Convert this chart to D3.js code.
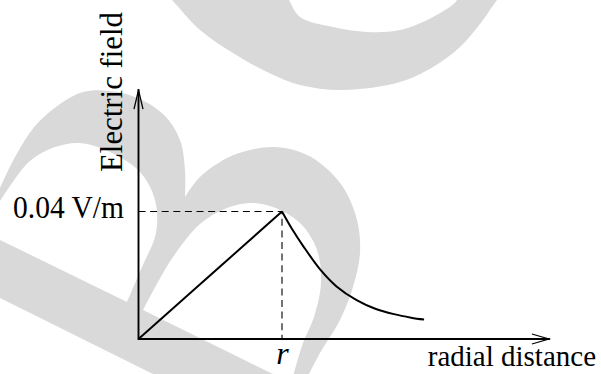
<!DOCTYPE html>
<html>
<head>
<meta charset="utf-8">
<script src="https://cdn.jsdelivr.net/npm/d3@7"></script>
<style>
  html, body { margin: 0; padding: 0; background: #ffffff; }
  svg { display: block; }
</style>
</head>
<body>
<script>
// ---------------- data ----------------
// radial distance in units of r, electric field in V/m
const riseR  = [0, 1];
const riseE  = [0, 0.04];
const decayR = [1, 1.07, 1.15, 1.27, 1.38, 1.52, 1.65, 1.78, 1.9, 1.99];
const decayE = [0.04, 0.0345, 0.0290, 0.0216, 0.0165, 0.0122, 0.0095, 0.0078, 0.0067, 0.0061];
const yTicks = [0.04];
const yTickLabels = ["0.04 V/m"];
const xTicks = [1];
const xTickLabels = ["r"];
const xTitle = "radial distance";
const yTitle = "Electric field";

// decorative background watermark outline (pixel space, not data)
const wmTopOuter = [[166,-6],[172,0],[200,30],[233,53],[267,72],[300,85],[343,90],[400,82],[433,67],[460,47],[480,24],[497,0],[502,-6]];
const wmTopInner = [[456,-6],[457,0],[433,17],[400,30],[367,32],[333,27],[300,17],[289,0],[286,-6]];
const wmLeftOuter = [[-8,205],[0,188],[15,157],[35,126],[60,104],[83,92],[110,91],[140,99],[165,116],[180,140],[185,170],[185,197]];
const wmSecondOuter = [[185,197],[200,177],[227,158],[250,150],[275,147],[300,152],[320,163],[343,187],[357,220],[360,253],[353,287],[340,320],[320,353],[306,380]];
const wmOuterClose = [[165,380],[-8,294]];
const wmLeftHole = [[-8,214],[10,186],[30,161],[55,147],[80,143],[110,152],[140,172],[155,200],[156,233],[142,267],[127,302]];
const wmLeftHoleClose = [[-8,236]];
const wmSecondHole = [[143,310],[158,282],[173,257],[200,224],[227,208],[250,203],[273,207],[300,223],[317,250],[321,283],[314,317],[303,343],[292,380]];
const wmSecondHoleClose = [[285,380]];

// ---------------- drawing ----------------
const W = 601, H = 374;
const svg = d3.select("body").append("svg").attr("width", W).attr("height", H);

const FONT = "'Liberation Serif', 'Times New Roman', serif";
const WM = "#d9d9d9";

// watermark
const smooth = d3.line().curve(d3.curveCatmullRom.alpha(0.5));
const straight = d3.line();
function joinPath(parts) {
  return parts.map((p, i) => (i === 0 ? p : p.replace(/^M/, "L"))).join("") + "Z";
}
const wm = svg.append("g");
wm.append("path").attr("fill", WM)
  .attr("d", joinPath([smooth(wmTopOuter), smooth(wmTopInner)]));
wm.append("path").attr("fill", WM)
  .attr("d", joinPath([smooth(wmLeftOuter), smooth(wmSecondOuter), straight(wmOuterClose)]));
wm.append("path").attr("fill", "#ffffff")
  .attr("d", joinPath([smooth(wmLeftHole), straight(wmLeftHoleClose)]));
wm.append("path").attr("fill", "#ffffff")
  .attr("d", joinPath([smooth(wmSecondHole), straight(wmSecondHoleClose)]));

// scales
const x = d3.scaleLinear().domain([0, 1]).range([138.5, 282]);
const y = d3.scaleLinear().domain([0, 0.04]).range([339, 211.5]);
const xMax = 2.86, yMax = 0.0781;

// dashed guide lines
svg.append("path")
  .attr("d", `M${x(0)},${y(yTicks[0])}H${x(xTicks[0])}V${y(0)}`)
  .attr("fill", "none").attr("stroke", "#000").attr("stroke-width", 1.1)
  .attr("stroke-dasharray", "7,4.6");

// axes lines with open arrowheads
const axes = svg.append("g").attr("fill", "none").attr("stroke", "#000");
axes.append("path")
  .attr("d", `M${x(0)},${y(0)}V${y(yMax)}M${x(0)},${y(0)}H${x(xMax)}`)
  .attr("stroke-width", 1.9).attr("stroke-linecap", "square");
axes.append("path")
  .attr("d", `M${x(0) - 4.5},${y(yMax) + 19}L${x(0)},${y(yMax)}L${x(0) + 4.5},${y(yMax) + 19}`)
  .attr("stroke-width", 1.3);
axes.append("path")
  .attr("d", `M${x(xMax) - 17},${y(0) - 5}L${x(xMax)},${y(0)}L${x(xMax) - 17},${y(0) + 5}`)
  .attr("stroke-width", 1.3);

// data lines
svg.append("path")
  .datum(riseR.map((r, i) => [r, riseE[i]]))
  .attr("d", d3.line().x(d => x(d[0])).y(d => y(d[1])).curve(d3.curveLinear))
  .attr("fill", "none").attr("stroke", "#000").attr("stroke-width", 2);
svg.append("path")
  .datum(decayR.map((r, i) => [r, decayE[i]]))
  .attr("d", d3.line().x(d => x(d[0])).y(d => y(d[1])).curve(d3.curveCatmullRom.alpha(0.5)))
  .attr("fill", "none").attr("stroke", "#000").attr("stroke-width", 2);

// tick labels via d3 axes
const gy = svg.append("g").attr("transform", `translate(${x(0)},0)`)
  .call(d3.axisLeft(y).tickValues(yTicks).tickFormat((d, i) => yTickLabels[i]).tickSize(0).tickPadding(14.5));
gy.select(".domain").remove();
gy.selectAll(".tick line").remove();
gy.attr("font-family", FONT).attr("font-size", 32);
gy.selectAll("text").attr("fill", "#000").attr("dy", "0.18em")
  .attr("textLength", 111).attr("lengthAdjust", "spacingAndGlyphs");

const gx = svg.append("g").attr("transform", `translate(0,${y(0)})`)
  .call(d3.axisBottom(x).tickValues(xTicks).tickFormat((d, i) => xTickLabels[i]).tickSize(0));
gx.select(".domain").remove();
gx.selectAll(".tick line").remove();
gx.attr("font-family", FONT).attr("font-size", 32);
gx.selectAll("text").attr("fill", "#000").attr("font-style", "italic")
  .attr("dy", 0).attr("y", 24.5);

// axis titles
svg.append("text")
  .attr("x", 596).attr("y", 366)
  .attr("text-anchor", "end")
  .attr("font-family", FONT).attr("font-size", 29).attr("fill", "#000")
  .text(xTitle);
svg.append("text")
  .attr("transform", "translate(122,92) rotate(-90)")
  .attr("text-anchor", "middle")
  .attr("font-family", FONT).attr("font-size", 32).attr("fill", "#000")
  .attr("textLength", 160).attr("lengthAdjust", "spacingAndGlyphs")
  .text(yTitle);
</script>
</body>
</html>
